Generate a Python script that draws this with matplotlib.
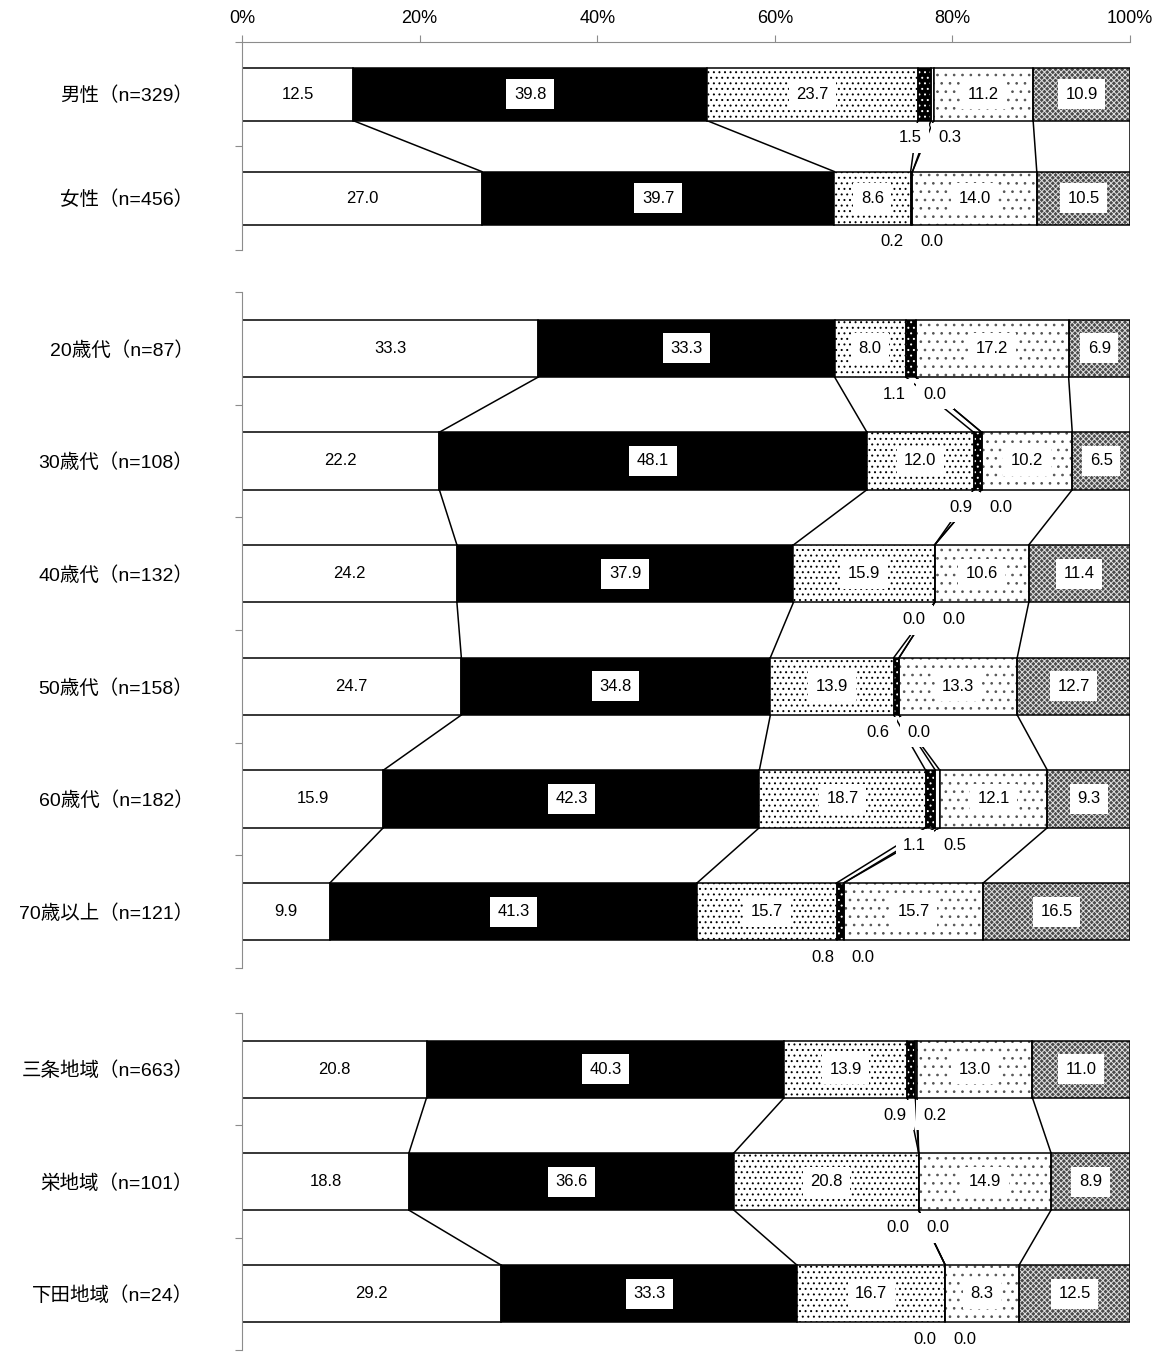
import numpy as np
import matplotlib.pyplot as plt

plt.rcParams['font.family'] = ['Liberation Sans', 'Noto Sans CJK JP']
plt.rcParams['hatch.linewidth'] = 0.7

# -----------------------------
# Data
# -----------------------------
labels_sex = ["男性（n=329）", "女性（n=456）"]
labels_age = ["20歳代（n=87）", "30歳代（n=108）", "40歳代（n=132）",
              "50歳代（n=158）", "60歳代（n=182）", "70歳以上（n=121）"]
labels_area = ["三条地域（n=663）", "栄地域（n=101）", "下田地域（n=24）"]

# rows: sex(2), age(6), area(3)
s1 = [12.5, 27.0, 33.3, 22.2, 24.2, 24.7, 15.9, 9.9, 20.8, 18.8, 29.2]
s2 = [39.8, 39.7, 33.3, 48.1, 37.9, 34.8, 42.3, 41.3, 40.3, 36.6, 33.3]
s3 = [23.7, 8.6, 8.0, 12.0, 15.9, 13.9, 18.7, 15.7, 13.9, 20.8, 16.7]
s4 = [1.5, 0.2, 1.1, 0.9, 0.0, 0.6, 1.1, 0.8, 0.9, 0.0, 0.0]
s5 = [0.3, 0.0, 0.0, 0.0, 0.0, 0.0, 0.5, 0.0, 0.2, 0.0, 0.0]
s6 = [11.2, 14.0, 17.2, 10.2, 10.6, 13.3, 12.1, 15.7, 13.0, 14.9, 8.3]
s7 = [10.9, 10.5, 6.9, 6.5, 11.4, 12.7, 9.3, 16.5, 11.0, 8.9, 12.5]

series = np.array([s1, s2, s3, s4, s5, s6, s7])
groups = [labels_sex, labels_age, labels_area]

xticks = [0, 20, 40, 60, 80, 100]

# -----------------------------
# Styles
# -----------------------------
faces = ['white', 'black', 'white', 'black', 'white', 'white', '#4a4a4a']
hatches = [None, None, '...', '...', None, '..', 'xxxxxx']
# hatch colour drawn on a separate layer, outline drawn on top
hatch_cols = [None, None, None, 'white', None, '#555555', '#e0e0e0']
BAR_H = 0.51
LW = 1.1
GRAY = '#8c8c8c'

fig = plt.figure(figsize=(11.59, 13.53), dpi=100)
rects = [(0.2088, 0.8152, 0.7662, 0.1537),
         (0.2088, 0.2846, 0.7662, 0.4996),
         (0.2088, 0.0022, 0.7662, 0.2491)]

box = dict(boxstyle='square,pad=0.45', fc='white', ec='none')

start = 0
for gi, labels in enumerate(groups):
    ax = fig.add_axes(rects[gi])
    n = len(labels)
    vals = series[:, start:start + n]
    start += n
    pct = vals / vals.sum(axis=0) * 100
    cum = np.vstack([np.zeros(n), np.cumsum(pct, axis=0)])
    y = np.arange(n)

    for k in range(7):
        if hatch_cols[k] is not None:
            ax.barh(y, pct[k], left=cum[k], height=BAR_H, color=faces[k],
                    edgecolor=hatch_cols[k], hatch=hatches[k], linewidth=0, zorder=2)
            ax.barh(y, pct[k], left=cum[k], height=BAR_H, fill=False,
                    edgecolor='black', linewidth=LW, zorder=3)
        else:
            ax.barh(y, pct[k], left=cum[k], height=BAR_H, color=faces[k],
                    edgecolor='black', hatch=hatches[k], linewidth=LW, zorder=2)

    # series lines
    for i in range(n - 1):
        for k in range(1, 8):
            ax.plot([cum[k, i], cum[k, i + 1]], [i + BAR_H / 2, i + 1 - BAR_H / 2],
                    color='black', lw=LW, zorder=1)

    # labels
    for i in range(n):
        for k in (0, 1, 2, 5, 6):
            ax.text(cum[k, i] + pct[k, i] / 2, i, f"{vals[k, i]:.1f}",
                    ha='center', va='center', fontsize=12, bbox=box, zorder=5)
        b = cum[4, i]
        ax.annotate(f"{vals[3, i]:.1f}", xy=(b, i + BAR_H / 2), xytext=(-15, -12.5),
                    textcoords='offset points', ha='center', va='center',
                    fontsize=12, bbox=box, zorder=5)
        ax.annotate(f"{vals[4, i]:.1f}", xy=(b, i + BAR_H / 2), xytext=(14, -12.5),
                    textcoords='offset points', ha='center', va='center',
                    fontsize=12, bbox=box, zorder=5)

    ax.set_xlim(0, 100)
    ax.set_ylim(n - 0.5, -0.5)
    ax.set_yticks(np.arange(-0.5, n, 1.0))
    ax.set_yticklabels([])
    ax.set_yticks(y, labels, minor=True)
    ax.tick_params(axis='y', which='minor', length=0, pad=35, labelsize=14)
    ax.tick_params(axis='y', which='major', length=5, color=GRAY, direction='out')

    for side in ('right', 'bottom', 'top'):
        ax.spines[side].set_visible(False)
    ax.spines['left'].set_color(GRAY)

    if gi == 0:
        ax.spines['top'].set_visible(True)
        ax.spines['top'].set_color(GRAY)
        ax.xaxis.tick_top()
        ax.set_xticks(xticks, [f"{v}%" for v in xticks])
        ax.tick_params(axis='x', length=5, color=GRAY, pad=6, labelsize=13)
    else:
        ax.set_xticks([])

fig.savefig("out.png", dpi=100)
